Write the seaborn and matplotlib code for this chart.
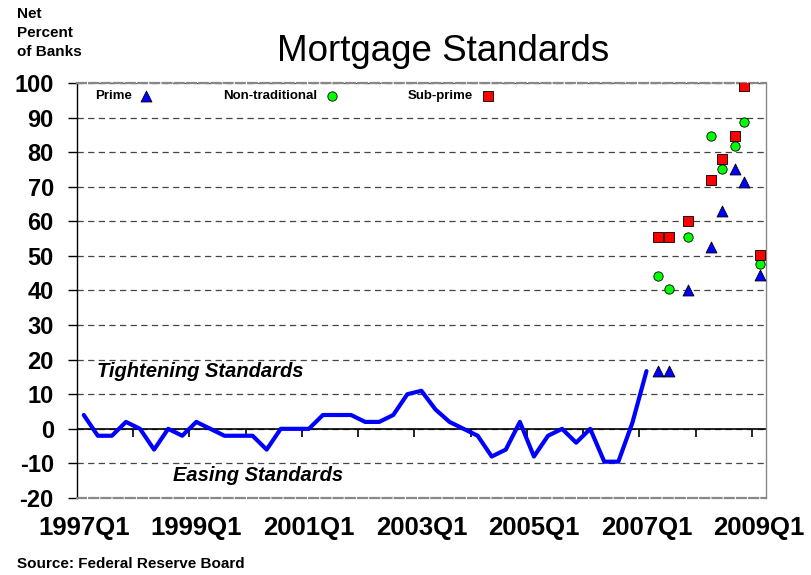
import pandas as pd
import numpy as np
import matplotlib.pyplot as plt
import seaborn as sns

# Net percent of banks tightening mortgage standards (quarterly, 1997Q1-2007Q1)
line_values = [4, -2, -2, 2,
               0, -6, 0, -2,
               2, 0, -2, -2,
               -2, -6, 0, 0,
               0, 4, 4, 4,
               2, 2, 4, 10,
               11, 5.6, 2, 0,
               -2, -8, -6, 2,
               -8, -2, 0, -4,
               0, -9.5, -9.5, 1.8,
               16.7]

# Survey dates (decimal years) for the split categories, 2007-2009
survey_dates = [2007.20, 2007.40, 2007.73, 2008.14, 2008.34, 2008.57, 2008.73, 2009.02]
prime = [16.6, 16.6, 40.2, 52.5, 63.0, 75.0, 71.5, 44.6]
non_traditional = [44.2, 40.5, 55.6, 84.7, 75.2, 81.9, 88.8, 47.6]
sub_prime = [55.6, 55.6, 60.2, 71.9, 77.9, 84.6, 99.2, 50.2]

tick_years = [1997, 1999, 2001, 2003, 2005, 2007, 2009]
tick_labels = [f"{y}Q1" for y in tick_years]

quarters = pd.period_range("1997Q1", periods=len(line_values), freq="Q")
line_df = pd.DataFrame({"date": quarters.year + (quarters.quarter - 1) / 4,
                        "value": line_values})

sns.set_style("white")
plt.rcParams["font.family"] = ["Liberation Sans", "DejaVu Sans"]
plt.rcParams["axes.unicode_minus"] = False
plt.rcParams["text.color"] = "black"
plt.rcParams["xtick.color"] = "black"
plt.rcParams["ytick.color"] = "black"

fig = plt.figure(figsize=(8.11, 5.75), dpi=100)
ax = fig.add_axes([0.0946, 0.1339, 0.85, 0.7218])

ax.axhline(0, color="black", linewidth=1.2, zorder=1.5)
sns.lineplot(data=line_df, x="date", y="value", color="#0000FF", linewidth=3,
             ax=ax, zorder=3)

sns.scatterplot(x=survey_dates, y=prime, marker="^", s=62, color="#0000FF",
                edgecolor="black", linewidth=0.6, label="Prime", ax=ax, zorder=4)
sns.scatterplot(x=survey_dates, y=non_traditional, marker="o", s=45, color="#00FF00",
                edgecolor="black", linewidth=0.6, label="Non-traditional", ax=ax, zorder=4)
sns.scatterplot(x=survey_dates, y=sub_prime, marker="s", s=42, color="#FF0000",
                edgecolor="black", linewidth=0.6, label="Sub-prime", ax=ax, zorder=4)

ax.set_xlim(1996.875, 2009.125)
ax.set_ylim(-20, 100)
ax.set_yticks(range(-20, 101, 10))
ax.set_xticks(tick_years, labels=tick_labels)
ax.set_xlabel("")
ax.set_ylabel("")

ax.yaxis.grid(True, linestyle=(0, (5, 3.5)), color="#444444", linewidth=0.9)
ax.set_axisbelow(True)

for lbl in ax.get_yticklabels() + ax.get_xticklabels():
    lbl.set_fontweight("bold")
    lbl.set_color("black")
ax.tick_params(axis="y", left=True, length=6.5, width=1, color="black",
               labelsize=17, pad=10)
ax.tick_params(axis="x", bottom=False, length=0, labelsize=18.5, pad=13)

ax.spines["left"].set_color("black")
ax.spines["left"].set_linewidth(1)
ax.spines["right"].set_color("#888888")
ax.spines["right"].set_linewidth(1)
for side in ["top", "bottom"]:
    ax.spines[side].set_color("#888888")
    ax.spines[side].set_linewidth(1.6)
    ax.spines[side].set_linestyle((0, (4, 1.5)))

# category-boundary tick marks along the zero line
sec = ax.secondary_xaxis(20 / 120)
sec.set_xticks(np.arange(1997.875, 2009, 1.0), labels=[])
sec.tick_params(axis="x", bottom=True, direction="out", length=5.5, width=1.2,
                color="black")
sec.spines["bottom"].set_visible(False)

ax.legend(loc="center left", bbox_to_anchor=(0.0265, 0.968), ncol=3, frameon=False,
          markerfirst=False, handlelength=1, handletextpad=0.6, columnspacing=5.3,
          borderpad=0, borderaxespad=0, prop={"weight": "bold", "size": 9.5})

ax.text(1999.07, 16.5, "Tightening Standards", fontsize=14.5, fontweight="bold",
        fontstyle="italic", ha="center", va="center")
ax.text(2000.10, -13.6, "Easing Standards", fontsize=14.5, fontweight="bold",
        fontstyle="italic", ha="center", va="center")

fig.text(0.546, 0.9096, "Mortgage Standards", fontsize=26.5, ha="center", va="center")
fig.text(0.021, 0.987, "Net\nPercent\nof Banks", fontsize=11, fontweight="bold",
         ha="left", va="top", linespacing=1.45)
fig.text(0.021, 0.019, "Source: Federal Reserve Board", fontsize=11,
         fontweight="bold", ha="left", va="center")

plt.savefig("out.png", dpi=100)
